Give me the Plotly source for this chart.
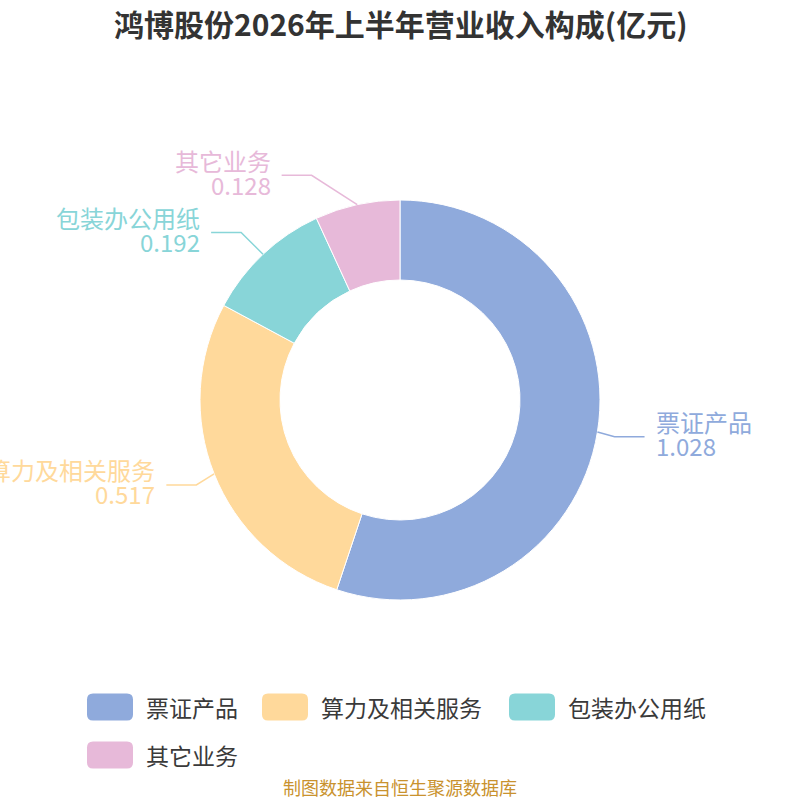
import math
import plotly.graph_objects as go

title = "鸿博股份2026年上半年营业收入构成(亿元)"
source = "制图数据来自恒生聚源数据库"
categories = ["票证产品", "算力及相关服务", "包装办公用纸", "其它业务"]
values = [1.028, 0.517, 0.192, 0.128]
colors = ["#8FAADC", "#FFD99B", "#88D5D8", "#E7B9D9"]

FONT = "Noto Sans CJK SC"
W = H = 800
cx, cy = 400, 400
r_out = 200


def px(x):
    return x / W


def py(y):
    return 1 - y / H


def round_rect(x0, y0, x1, y1, r):
    # rounded rectangle as svg path in paper coords
    pts = [
        f"M{px(x0 + r)},{py(y0)}",
        f"L{px(x1 - r)},{py(y0)}",
        f"Q{px(x1)},{py(y0)} {px(x1)},{py(y0 + r)}",
        f"L{px(x1)},{py(y1 - r)}",
        f"Q{px(x1)},{py(y1)} {px(x1 - r)},{py(y1)}",
        f"L{px(x0 + r)},{py(y1)}",
        f"Q{px(x0)},{py(y1)} {px(x0)},{py(y1 - r)}",
        f"L{px(x0)},{py(y0 + r)}",
        f"Q{px(x0)},{py(y0)} {px(x0 + r)},{py(y0)}",
        "Z",
    ]
    return " ".join(pts)


fig = go.Figure(
    go.Pie(
        labels=categories,
        values=values,
        hole=0.6,
        sort=False,
        direction="clockwise",
        rotation=0,
        marker=dict(colors=colors, line=dict(color="white", width=1)),
        textinfo="none",
        domain=dict(x=[0.25, 0.75], y=[0.25, 0.75]),
        showlegend=False,
    )
)

shapes = []
annotations = []

# outside labels with leader lines
total = sum(values)
cum = 0
for name, v, c in zip(categories, values, colors):
    theta = (cum + v / 2) / total * 2 * math.pi
    cum += v
    s, co = math.sin(theta), math.cos(theta)
    x0, y0 = cx + r_out * s, cy - r_out * co
    ey = cy - 230 * co
    dy = ey - cy
    d = 1 if s > 0 else -1
    ex = cx + d * 217 * math.sqrt(max(0, 1 - dy * dy / 246 ** 2))
    lx = ex + d * 30
    shapes.append(dict(
        type="path", xref="paper", yref="paper",
        path=f"M{px(x0)},{py(y0)} L{px(ex)},{py(ey)} L{px(lx)},{py(ey)}",
        line=dict(color=c, width=1.5),
    ))
    anchor = "left" if d > 0 else "right"
    tx = px(lx + d * 9)
    annotations.append(dict(
        x=tx, y=py(ey - 15), xref="paper", yref="paper", text=name,
        showarrow=False, xanchor=anchor, yanchor="middle",
        font=dict(family=FONT, size=24, color=c),
    ))
    annotations.append(dict(
        x=tx, y=py(ey + 9), xref="paper", yref="paper", text=f"{v:.3f}",
        showarrow=False, xanchor=anchor, yanchor="middle",
        font=dict(family=FONT, size=24, color=c),
    ))

# legend drawn by hand to get the big rounded swatches
lx, row = 87, 0
row_y = [707, 755]
for name, c in zip(categories, colors):
    width = 46 + 12 + len(name) * 24
    if lx + width > 725:
        lx = 87
        row += 1
    yc = row_y[row]
    shapes.append(dict(
        type="path", xref="paper", yref="paper",
        path=round_rect(lx, yc - 13.5, lx + 46, yc + 13.5, 6),
        fillcolor=c, line=dict(width=0),
    ))
    annotations.append(dict(
        x=px(lx + 57), y=py(yc), xref="paper", yref="paper", text=name,
        showarrow=False, xanchor="left", yanchor="middle",
        font=dict(family=FONT, size=23, color="#3a3a3a"),
    ))
    lx += width + 21

annotations.append(dict(
    x=0.5, y=py(23), xref="paper", yref="paper", text=f"<b>{title}</b>",
    showarrow=False, xanchor="center", yanchor="middle",
    font=dict(family=FONT, size=30, color="#333"),
))
annotations.append(dict(
    x=0.5, y=py(787), xref="paper", yref="paper", text=source,
    showarrow=False, xanchor="center", yanchor="middle",
    font=dict(family=FONT, size=18, color="#C9922E"),
))

fig.update_layout(
    width=W, height=H,
    margin=dict(l=0, r=0, t=0, b=0),
    paper_bgcolor="white",
    plot_bgcolor="white",
    shapes=shapes,
    annotations=annotations,
)

# page body has an 8px default margin; drop it so the chart fills the window
fig.write_html("out.html", config={"displayModeBar": False},
               post_script="document.body.style.margin='0';")
